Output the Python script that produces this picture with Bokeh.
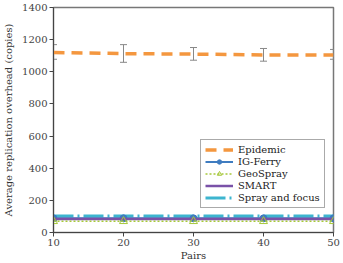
from bokeh.plotting import figure
from bokeh.models import ColumnDataSource, Whisker, Legend, LegendItem, Range1d, FixedTicker
from bokeh.embed import file_html
from bokeh.resources import INLINE

pairs = [10, 20, 30, 40, 50]
epidemic = [1120, 1113, 1110, 1105, 1105]
epidemic_low = [1078, 1059, 1072, 1066, 1078]
epidemic_high = [1169, 1169, 1151, 1145, 1139]
ig_ferry = [88, 88, 88, 88, 88]
geospray = [70, 70, 70, 70, 70]
smart = [84, 84, 84, 84, 84]
spray_focus = [102, 102, 102, 102, 102]

FONT = "DejaVu Serif"

p = figure(width=343, height=263, output_backend="svg", toolbar_location=None,
           x_range=Range1d(10, 50), y_range=Range1d(0, 1400),
           min_border_left=50, min_border_right=10, min_border_top=7, min_border_bottom=26)
p.background_fill_color = "white"
p.border_fill_color = "white"
p.grid.visible = False
p.outline_line_color = "#777777"
p.outline_line_width = 1.5

p.xaxis.ticker = FixedTicker(ticks=pairs)
p.yaxis.ticker = FixedTicker(ticks=list(range(0, 1401, 200)))
p.xaxis.axis_label = "Pairs"
p.yaxis.axis_label = "Average replication overhead (copies)"
for ax in (p.xaxis[0], p.yaxis[0]):
    ax.axis_label_text_font = FONT
    ax.axis_label_text_font_style = "normal"
    ax.axis_label_text_font_size = "10px"
    ax.major_label_text_font = FONT
    ax.major_label_text_font_size = "10px"
    ax.major_label_text_color = "#444444"
    ax.axis_label_text_color = "#333333"
    ax.axis_line_color = "#444444"
    ax.major_tick_line_color = "#444444"
    ax.minor_tick_line_color = None
    ax.major_tick_out = 4
    ax.major_tick_in = 0
p.xaxis.axis_label_standoff = 1
p.xaxis.major_label_standoff = 2
p.yaxis.axis_label_standoff = 5
p.yaxis.major_label_standoff = 2

src = ColumnDataSource(dict(x=pairs, lo=epidemic_low, hi=epidemic_high))
wh = Whisker(source=src, base="x", lower="lo", upper="hi",
             line_color="#888888", line_width=1)
wh.upper_head.line_color = "#888888"
wh.lower_head.line_color = "#888888"
wh.upper_head.size = 7
wh.lower_head.size = 7
p.add_layout(wh)

r_epi = p.line(pairs, epidemic, line_color="#F4973F", line_width=3.5, line_dash="11 7")
r_spray = p.line(pairs, spray_focus, line_color="#3DB5CF", line_width=3, line_dash="20 4 2 4")
r_ig = p.line(pairs, ig_ferry, line_color="#3F7CC0", line_width=2)
r_ig_m = p.scatter(pairs, ig_ferry, marker="circle", size=7, fill_color="#3F7CC0", line_color="#3F7CC0")
r_smart = p.line(pairs, smart, line_color="#7A52A8", line_width=2.5)
r_geo = p.line(pairs, geospray, line_color="#A6C83A", line_width=1.5, line_dash="2 2")
r_geo_m = p.scatter(pairs, geospray, marker="triangle", size=8, fill_color=None, line_color="#A6C83A")

legend = Legend(items=[
    LegendItem(label="Epidemic", renderers=[r_epi]),
    LegendItem(label="IG-Ferry", renderers=[r_ig, r_ig_m]),
    LegendItem(label="GeoSpray", renderers=[r_geo, r_geo_m]),
    LegendItem(label="SMART", renderers=[r_smart]),
    LegendItem(label="Spray and focus", renderers=[r_spray]),
], location=(147, 24))
legend.label_text_font = FONT
legend.label_text_font_size = "10px"
legend.label_text_color = "#222222"
legend.label_height = 11
legend.glyph_height = 11
legend.glyph_width = 28
legend.spacing = 1
legend.padding = 4
legend.margin = 0
legend.label_standoff = 5
legend.border_line_color = "#555555"
legend.border_line_width = 1
legend.background_fill_alpha = 1.0
p.add_layout(legend)

open("out.html", "w").write(file_html(p, INLINE))
